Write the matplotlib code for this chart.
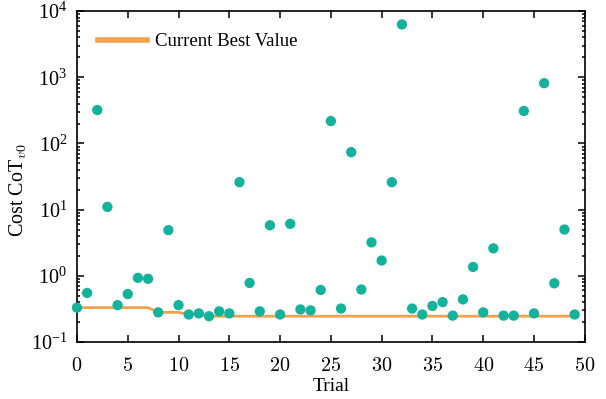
import numpy as np
from matplotlib import pyplot as plt
from matplotlib.ticker import FuncFormatter

plt.rcParams['font.family'] = ['Liberation Serif', 'DejaVu Serif']
plt.rcParams['mathtext.fontset'] = 'cm'

trials = list(range(50))
costs = [0.33, 0.55, 320, 11, 0.36, 0.53, 0.93, 0.9, 0.28, 4.9,
         0.36, 0.26, 0.27, 0.245, 0.29, 0.27, 26, 0.78, 0.29, 5.8,
         0.26, 6.1, 0.31, 0.3, 0.61, 218, 0.32, 74, 0.62, 3.2,
         1.7, 26, 6300, 0.32, 0.26, 0.35, 0.4, 0.25, 0.44, 1.36,
         0.28, 2.6, 0.25, 0.25, 310, 0.27, 815, 0.77, 5.0, 0.26]

best = np.minimum.accumulate(costs)

TEAL = "#12b29c"
ORANGE = "#f4a04f"

fig, ax = plt.subplots(figsize=(6.06, 3.99), dpi=100)
fig.subplots_adjust(left=0.127, right=0.965, top=0.972, bottom=0.143)

ax.plot(trials, best, color=ORANGE, lw=2, label="Current Best Value", zorder=2)
ax.scatter(trials, costs, s=55, color=TEAL, edgecolors='none', zorder=3, clip_on=False)

ax.set_yscale('log')
ax.set_ylim(1e-1, 1e4)
ax.set_xlim(0, 50)
ax.set_xticks(range(0, 51, 5))
ax.xaxis.set_major_formatter(FuncFormatter(lambda v, p: r"$%d$" % v))
for s in ax.spines.values():
    s.set_linewidth(1.2)
ax.tick_params(which='both', direction='in', top=True, right=True, labelsize=14.5, width=1.1)
ax.tick_params(which='major', length=5)
ax.tick_params(which='minor', length=2.5)
ax.tick_params(axis='x', pad=11)
ax.tick_params(axis='y', pad=7)
ax.set_xlabel("Trial", fontsize=14, labelpad=1)
ax.set_ylabel(r"Cost CoT$_{v0}$", fontsize=14.5)
ax.yaxis.set_label_coords(-0.094, 0.46)

leg = ax.legend(loc='upper left', frameon=False, fontsize=13.5, handlelength=2.6,
                handletextpad=0.45, bbox_to_anchor=(0.008, 0.985))
for h in leg.get_lines():
    h.set_linewidth(4)

fig.savefig("out.png", dpi=100)
